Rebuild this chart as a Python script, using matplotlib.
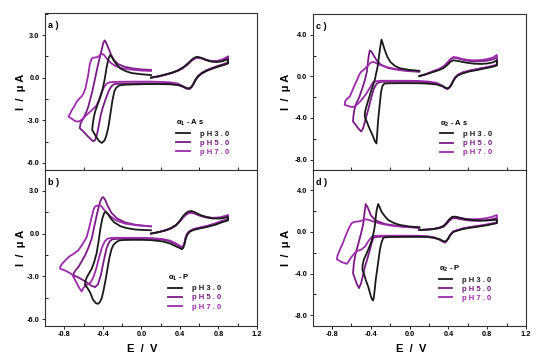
import matplotlib
matplotlib.use("Agg")
import matplotlib.pyplot as plt
from matplotlib.ticker import MultipleLocator, FormatStrFormatter

plt.rcParams['font.family'] = ['Liberation Sans', 'DejaVu Sans']
plt.rcParams['font.weight'] = 'bold'
plt.rcParams['axes.unicode_minus'] = False
plt.rcParams['mathtext.default'] = 'regular'

legend_labels = ['p H 3 . 0', 'p H 5 . 0', 'p H 7 . 0']
line_colors = ['#1a1a1a', '#7a1a86', '#9c2aaa']
panel_tags = ['a )', 'b )', 'c )', 'd )']
legend_titles = [r'$\alpha_1$ - A s', r'$\alpha_1$ - P', r'$\alpha_2$ - A s', r'$\alpha_2$ - P']

# ---- panel a : alpha1-As ----
a_ph3_E = [0.10, 0.18, 0.25, 0.32, 0.38, 0.43, 0.48, 0.52, 0.55, 0.58, 0.62, 0.67, 0.72, 0.78, 0.84, 0.90,
           0.90, 0.86, 0.80, 0.74, 0.68, 0.63, 0.59, 0.56, 0.54, 0.52, 0.50, 0.47, 0.43, 0.38, 0.30, 0.20, 0.10, 0.00, -0.10, -0.18,
           -0.23, -0.26, -0.28, -0.30, -0.32, -0.34, -0.36, -0.38, -0.41, -0.44, -0.47, -0.50, -0.51,
           -0.505, -0.495, -0.48, -0.46, -0.43, -0.40, -0.38, -0.36, -0.34, -0.325, -0.31, -0.29, -0.26, -0.22, -0.16, -0.10, 0.00, 0.10]
a_ph3_I = [0.00, 0.10, 0.22, 0.35, 0.50, 0.70, 0.98, 1.25, 1.40, 1.47, 1.40, 1.25, 1.14, 1.10, 1.15, 1.30,
           1.02, 0.92, 0.80, 0.66, 0.50, 0.32, 0.10, -0.18, -0.45, -0.66, -0.76, -0.74, -0.62, -0.52, -0.47, -0.45, -0.45, -0.46, -0.48, -0.50,
           -0.55, -0.70, -0.95, -1.60, -2.50, -3.40, -4.00, -4.40, -4.60, -4.45, -4.15, -3.80, -3.70,
           -3.30, -2.85, -2.40, -2.00, -1.45, -0.75, -0.10, 0.75, 1.35, 1.58, 1.50, 1.25, 0.95, 0.65, 0.45, 0.32, 0.24, 0.18]

a_ph5_E = [0.10, 0.18, 0.25, 0.32, 0.38, 0.43, 0.48, 0.52, 0.55, 0.58, 0.62, 0.67, 0.72, 0.78, 0.84, 0.90,
           0.90, 0.86, 0.80, 0.74, 0.68, 0.63, 0.59, 0.56, 0.54, 0.52, 0.50, 0.47, 0.43, 0.38, 0.30, 0.20, 0.10, 0.00, -0.10, -0.20, -0.28,
           -0.31, -0.34, -0.37, -0.40, -0.42, -0.44, -0.46, -0.48, -0.50, -0.53, -0.56, -0.60, -0.64,
           -0.63, -0.60, -0.57, -0.55, -0.53, -0.51, -0.48, -0.45, -0.43, -0.41, -0.395, -0.38, -0.365, -0.34, -0.31, -0.28, -0.24, -0.18, -0.10, 0.00, 0.10]
a_ph5_I = [0.00, 0.08, 0.20, 0.33, 0.48, 0.66, 0.92, 1.18, 1.33, 1.40, 1.36, 1.24, 1.15, 1.13, 1.22, 1.42,
           1.00, 0.90, 0.78, 0.64, 0.48, 0.30, 0.08, -0.20, -0.46, -0.68, -0.80, -0.78, -0.64, -0.50, -0.44, -0.42, -0.40, -0.40, -0.41, -0.42, -0.45,
           -0.60, -0.95, -1.50, -2.10, -2.60, -3.30, -4.00, -4.40, -4.48, -4.30, -4.10, -3.80, -3.55,
           -3.20, -2.85, -2.40, -2.03, -1.50, -1.00, -0.05, 0.90, 1.45, 2.00, 2.45, 2.62, 2.45, 2.05, 1.55, 1.20, 0.95, 0.78, 0.66, 0.58, 0.54]

a_ph7_E = [0.10, 0.18, 0.25, 0.32, 0.38, 0.43, 0.48, 0.52, 0.55, 0.58, 0.62, 0.67, 0.72, 0.78, 0.84, 0.90,
           0.90, 0.86, 0.80, 0.74, 0.68, 0.63, 0.59, 0.56, 0.54, 0.52, 0.50, 0.47, 0.43, 0.38, 0.30, 0.20, 0.10, 0.00, -0.10, -0.20, -0.28,
           -0.33, -0.36, -0.39, -0.42, -0.445, -0.47, -0.50, -0.54, -0.58, -0.62, -0.655, -0.69, -0.72, -0.757,
           -0.74, -0.72, -0.69, -0.67, -0.64, -0.62, -0.60, -0.58, -0.565, -0.55, -0.535, -0.515, -0.49, -0.465, -0.44, -0.415, -0.39, -0.36, -0.32, -0.27, -0.20, -0.10, 0.00, 0.10]
a_ph7_I = [0.00, 0.10, 0.22, 0.36, 0.52, 0.70, 0.95, 1.20, 1.35, 1.42, 1.38, 1.27, 1.18, 1.17, 1.28, 1.50,
           1.08, 0.97, 0.84, 0.70, 0.54, 0.36, 0.14, -0.14, -0.42, -0.64, -0.76, -0.74, -0.60, -0.42, -0.33, -0.30, -0.28, -0.28, -0.28, -0.29, -0.30,
           -0.33, -0.42, -0.70, -1.20, -1.68, -2.00, -2.20, -2.45, -2.70, -2.97, -3.10, -3.05, -2.90, -2.74,
           -2.55, -2.27, -1.95, -1.68, -1.45, -1.33, -1.10, -0.75, -0.25, 0.25, 0.95, 1.35, 1.42, 1.42, 1.52, 1.68, 1.62, 1.35, 1.05, 0.82, 0.66, 0.56, 0.50, 0.47]

# ---- panel b : alpha1-P ----
b_ph3_E = [0.10, 0.18, 0.25, 0.31, 0.36, 0.40, 0.43, 0.46, 0.49, 0.52, 0.56, 0.61, 0.67, 0.74, 0.82, 0.90,
           0.90, 0.84, 0.77, 0.68, 0.60, 0.54, 0.50, 0.475, 0.46, 0.45, 0.435, 0.42, 0.40, 0.36, 0.30, 0.22, 0.10, 0.00, -0.10, -0.18, -0.23,
           -0.26, -0.29, -0.31, -0.33, -0.35, -0.37, -0.39, -0.41, -0.43, -0.45, -0.47, -0.50, -0.53, -0.56, -0.585,
           -0.58, -0.565, -0.54, -0.515, -0.49, -0.465, -0.445, -0.425, -0.405, -0.385, -0.37, -0.35, -0.32, -0.28, -0.22, -0.15, -0.06, 0.02, 0.10]
b_ph3_I = [0.00, 0.10, 0.22, 0.38, 0.60, 0.90, 1.20, 1.42, 1.55, 1.58, 1.48, 1.30, 1.16, 1.06, 1.05, 1.15,
           0.92, 0.80, 0.62, 0.46, 0.35, 0.25, 0.12, -0.10, -0.35, -0.70, -1.00, -1.10, -1.02, -0.90, -0.70, -0.55, -0.46, -0.44, -0.44, -0.45, -0.48,
           -0.60, -0.80, -1.10, -1.65, -2.40, -3.20, -3.90, -4.50, -4.80, -4.92, -4.88, -4.65, -4.15, -3.80, -3.60,
           -3.30, -3.05, -2.75, -2.46, -2.00, -1.40, -0.60, 0.35, 1.05, 1.45, 1.52, 1.40, 1.08, 0.78, 0.52, 0.38, 0.28, 0.25, 0.23]

b_ph5_E = [0.10, 0.18, 0.25, 0.31, 0.36, 0.40, 0.43, 0.46, 0.49, 0.52, 0.56, 0.61, 0.67, 0.74, 0.82, 0.90,
           0.90, 0.84, 0.77, 0.68, 0.60, 0.54, 0.50, 0.475, 0.46, 0.45, 0.435, 0.42, 0.40, 0.36, 0.30, 0.22, 0.10, 0.00, -0.10, -0.20, -0.27,
           -0.30, -0.33, -0.36, -0.39, -0.42, -0.45, -0.48, -0.52, -0.57, -0.62, -0.66, -0.706,
           -0.70, -0.68, -0.654, -0.62, -0.584, -0.55, -0.515, -0.49, -0.463, -0.445, -0.428, -0.41, -0.395, -0.375, -0.35, -0.31, -0.25, -0.17, -0.05, 0.10]
b_ph5_I = [0.00, 0.10, 0.22, 0.36, 0.56, 0.84, 1.10, 1.30, 1.42, 1.45, 1.38, 1.24, 1.13, 1.07, 1.10, 1.25,
           0.98, 0.85, 0.68, 0.50, 0.38, 0.28, 0.14, -0.05, -0.30, -0.62, -0.90, -0.98, -0.90, -0.75, -0.55, -0.42, -0.36, -0.35, -0.35, -0.36, -0.38,
           -0.40, -0.55, -1.00, -1.90, -2.90, -3.55, -3.75, -3.65, -3.40, -3.20, -3.05, -2.93,
           -2.75, -2.55, -2.35, -1.95, -1.53, -1.00, -0.35, 0.45, 1.29, 1.80, 2.22, 2.50, 2.55, 2.35, 1.95, 1.45, 1.05, 0.78, 0.60, 0.50]

b_ph7_E = [0.10, 0.18, 0.25, 0.31, 0.36, 0.40, 0.43, 0.46, 0.49, 0.52, 0.56, 0.61, 0.67, 0.74, 0.82, 0.90,
           0.90, 0.84, 0.77, 0.68, 0.60, 0.54, 0.50, 0.475, 0.46, 0.45, 0.435, 0.42, 0.40, 0.36, 0.30, 0.22, 0.10, 0.00, -0.10, -0.20, -0.30,
           -0.35, -0.38, -0.41, -0.44, -0.47, -0.50, -0.53, -0.57, -0.60, -0.62, -0.645, -0.68, -0.72, -0.78, -0.845,
           -0.84, -0.82, -0.79, -0.75, -0.70, -0.654, -0.61, -0.567, -0.54, -0.515, -0.495, -0.48, -0.46, -0.44, -0.42, -0.39, -0.36, -0.32, -0.26, -0.17, -0.05, 0.10]
b_ph7_I = [0.00, 0.10, 0.24, 0.40, 0.60, 0.88, 1.12, 1.32, 1.44, 1.48, 1.42, 1.28, 1.17, 1.10, 1.14, 1.30,
           1.02, 0.90, 0.72, 0.54, 0.42, 0.32, 0.18, 0.00, -0.25, -0.58, -0.85, -0.94, -0.86, -0.70, -0.50, -0.38, -0.32, -0.30, -0.30, -0.30, -0.30,
           -0.35, -0.55, -1.00, -1.70, -2.50, -3.10, -3.45, -3.60, -3.80, -4.05, -3.80, -3.35, -2.85, -2.62, -2.45,
           -2.30, -2.10, -1.88, -1.62, -1.40, -1.17, -0.75, -0.24, 0.45, 1.17, 1.70, 1.90, 1.95, 1.98, 1.95, 1.70, 1.45, 1.20, 0.92, 0.70, 0.58, 0.51]

# ---- panel c : alpha2-As ----
c_ph3_E = [0.10, 0.17, 0.24, 0.30, 0.35, 0.39, 0.42, 0.45, 0.49, 0.54, 0.60, 0.67, 0.74, 0.80, 0.86, 0.90,
           0.90, 0.85, 0.78, 0.70, 0.62, 0.55, 0.50, 0.47, 0.45, 0.43, 0.41, 0.39, 0.37, 0.34, 0.28, 0.20, 0.10, 0.00, -0.10, -0.20, -0.26,
           -0.28, -0.295, -0.305, -0.315, -0.325, -0.333, -0.342, -0.36, -0.38, -0.41, -0.44, -0.463,
           -0.46, -0.446, -0.42, -0.394, -0.375, -0.36, -0.345, -0.33, -0.314, -0.30, -0.29, -0.275, -0.256, -0.23, -0.20, -0.15, -0.10, 0.00, 0.10]
c_ph3_I = [0.03, 0.20, 0.42, 0.60, 0.80, 1.10, 1.40, 1.55, 1.50, 1.40, 1.30, 1.22, 1.20, 1.24, 1.35, 1.55,
           1.05, 0.92, 0.78, 0.62, 0.48, 0.30, 0.10, -0.15, -0.45, -0.80, -1.05, -1.15, -1.10, -0.95, -0.78, -0.70, -0.66, -0.65, -0.65, -0.66, -0.68,
           -0.90, -1.50, -2.40, -3.30, -4.20, -5.30, -6.45, -6.20, -5.70, -5.10, -4.40, -3.86,
           -3.40, -2.90, -2.10, -1.30, -0.80, -0.35, 0.30, 0.95, 2.10, 3.00, 3.54, 3.10, 2.52, 1.90, 1.40, 1.00, 0.78, 0.62, 0.54]

c_ph5_E = [0.10, 0.17, 0.24, 0.30, 0.35, 0.39, 0.42, 0.45, 0.49, 0.54, 0.60, 0.67, 0.74, 0.80, 0.86, 0.90,
           0.90, 0.85, 0.78, 0.70, 0.62, 0.55, 0.50, 0.47, 0.45, 0.43, 0.41, 0.39, 0.37, 0.34, 0.28, 0.20, 0.10, 0.00, -0.10, -0.20, -0.30,
           -0.34, -0.37, -0.40, -0.43, -0.46, -0.48, -0.50, -0.53, -0.56, -0.584,
           -0.58, -0.57, -0.55, -0.52, -0.49, -0.46, -0.44, -0.43, -0.42, -0.41, -0.395, -0.37, -0.34, -0.30, -0.22, -0.10, 0.00, 0.10]
c_ph5_I = [0.03, 0.22, 0.46, 0.66, 0.92, 1.30, 1.62, 1.80, 1.76, 1.62, 1.50, 1.44, 1.46, 1.52, 1.64, 1.82,
           1.10, 0.98, 0.84, 0.70, 0.55, 0.38, 0.16, -0.10, -0.42, -0.82, -1.10, -1.22, -1.15, -0.95, -0.70, -0.58, -0.52, -0.50, -0.50, -0.50, -0.52,
           -0.70, -1.20, -2.20, -3.30, -4.30, -5.00, -5.30, -5.00, -4.60, -4.34,
           -3.80, -3.20, -2.60, -2.00, -1.20, -0.30, 0.50, 1.40, 2.10, 2.50, 2.40, 2.00, 1.55, 1.15, 0.80, 0.60, 0.50, 0.45]

c_ph7_E = [0.10, 0.17, 0.24, 0.30, 0.35, 0.39, 0.42, 0.45, 0.49, 0.54, 0.60, 0.67, 0.74, 0.80, 0.86, 0.90,
           0.90, 0.85, 0.78, 0.70, 0.62, 0.55, 0.50, 0.47, 0.45, 0.43, 0.41, 0.39, 0.37, 0.34, 0.28, 0.20, 0.10, 0.00, -0.10, -0.20, -0.30,
           -0.33, -0.36, -0.38, -0.41, -0.45, -0.49, -0.53, -0.567, -0.60, -0.63, -0.67,
           -0.665, -0.645, -0.618, -0.59, -0.567, -0.54, -0.522, -0.50, -0.475, -0.45, -0.42, -0.40, -0.376, -0.35, -0.31, -0.25, -0.15, -0.05, 0.10]
c_ph7_I = [0.03, 0.24, 0.50, 0.70, 0.96, 1.34, 1.66, 1.86, 1.82, 1.68, 1.58, 1.54, 1.58, 1.66, 1.82, 2.06,
           1.12, 1.00, 0.86, 0.72, 0.57, 0.40, 0.18, -0.08, -0.40, -0.80, -1.08, -1.20, -1.12, -0.90, -0.62, -0.50, -0.44, -0.42, -0.42, -0.42, -0.42,
           -0.45, -0.50, -0.60, -1.10, -1.70, -2.20, -2.60, -2.90, -2.95, -2.85, -2.74,
           -2.40, -2.15, -1.95, -1.35, -0.83, -0.30, 0.13, 0.45, 0.62, 0.85, 1.15, 1.32, 1.40, 1.30, 1.12, 0.92, 0.72, 0.58, 0.48]

# ---- panel d : alpha2-P ----
d_ph3_E = [0.10, 0.17, 0.24, 0.30, 0.35, 0.38, 0.41, 0.44, 0.47, 0.52, 0.58, 0.65, 0.72, 0.79, 0.85, 0.90,
           0.90, 0.85, 0.78, 0.70, 0.62, 0.55, 0.49, 0.45, 0.42, 0.40, 0.38, 0.366, 0.34, 0.31, 0.25, 0.18, 0.10, 0.00, -0.10, -0.20, -0.26,
           -0.273, -0.29, -0.307, -0.32, -0.335, -0.35, -0.36, -0.37, -0.377, -0.39, -0.404, -0.428, -0.453, -0.473, -0.487,
           -0.485, -0.473, -0.45, -0.428, -0.41, -0.394, -0.38, -0.366, -0.355, -0.349, -0.34, -0.325, -0.31, -0.29, -0.255, -0.221, -0.16, -0.10, 0.00, 0.10]
d_ph3_I = [0.19, 0.22, 0.27, 0.38, 0.55, 0.85, 1.20, 1.45, 1.47, 1.35, 1.22, 1.14, 1.10, 1.10, 1.13, 1.18,
           0.85, 0.75, 0.62, 0.50, 0.40, 0.28, 0.12, 0.00, -0.30, -0.62, -0.85, -0.93, -0.85, -0.70, -0.56, -0.48, -0.46, -0.46, -0.47, -0.48, -0.52,
           -0.61, -1.00, -1.72, -2.60, -3.64, -4.60, -5.55, -6.30, -6.58, -6.45, -6.03, -5.23, -4.60, -3.96, -3.64,
           -3.20, -2.68, -2.20, -1.72, -1.30, -0.93, -0.40, 0.19, 0.85, 1.47, 2.10, 2.68, 2.40, 1.95, 1.50, 1.15, 0.85, 0.67, 0.52, 0.45]

d_ph5_E = [0.10, 0.17, 0.24, 0.30, 0.35, 0.38, 0.41, 0.44, 0.47, 0.52, 0.58, 0.65, 0.72, 0.79, 0.85, 0.90,
           0.90, 0.85, 0.78, 0.70, 0.62, 0.55, 0.49, 0.45, 0.42, 0.40, 0.38, 0.366, 0.34, 0.31, 0.25, 0.18, 0.10, 0.00, -0.10, -0.20, -0.30,
           -0.36, -0.376, -0.39, -0.41, -0.439, -0.46, -0.48, -0.50, -0.522, -0.54, -0.56, -0.584,
           -0.575, -0.56, -0.54, -0.52, -0.50, -0.48, -0.47, -0.46, -0.453, -0.43, -0.40, -0.35, -0.25, -0.10, 0.10]
d_ph5_I = [0.19, 0.22, 0.27, 0.36, 0.50, 0.76, 1.08, 1.30, 1.33, 1.24, 1.14, 1.08, 1.08, 1.12, 1.22, 1.35,
           0.88, 0.78, 0.66, 0.54, 0.44, 0.32, 0.16, 0.04, -0.26, -0.60, -0.88, -1.02, -0.92, -0.75, -0.55, -0.46, -0.44, -0.44, -0.44, -0.45, -0.46,
           -0.50, -0.61, -1.00, -1.72, -2.68, -3.30, -4.10, -4.90, -5.39, -5.10, -4.60, -3.96,
           -3.00, -2.20, -1.50, -0.80, -0.10, 0.70, 1.50, 2.20, 2.68, 2.30, 1.60, 1.10, 0.75, 0.55, 0.40]

d_ph7_E = [0.10, 0.17, 0.24, 0.30, 0.35, 0.38, 0.41, 0.44, 0.47, 0.52, 0.58, 0.65, 0.72, 0.79, 0.85, 0.90,
           0.90, 0.85, 0.78, 0.70, 0.62, 0.55, 0.49, 0.45, 0.42, 0.40, 0.38, 0.366, 0.34, 0.31, 0.25, 0.18, 0.10, 0.00, -0.10, -0.20, -0.30,
           -0.38, -0.42, -0.46, -0.50, -0.55, -0.60, -0.646, -0.70, -0.75,
           -0.745, -0.73, -0.71, -0.69, -0.67, -0.65, -0.63, -0.60, -0.575, -0.55, -0.52, -0.49, -0.465, -0.446, -0.42, -0.38, -0.30, -0.20, -0.10, 0.00, 0.10]
d_ph7_I = [0.19, 0.23, 0.29, 0.40, 0.58, 0.88, 1.22, 1.42, 1.45, 1.36, 1.26, 1.22, 1.24, 1.32, 1.45, 1.63,
           0.92, 0.82, 0.70, 0.58, 0.47, 0.35, 0.18, 0.05, -0.25, -0.58, -0.86, -1.00, -0.90, -0.72, -0.50, -0.40, -0.37, -0.36, -0.36, -0.36, -0.36,
           -0.38, -0.80, -1.40, -1.70, -1.85, -2.40, -3.06, -2.90, -2.62,
           -2.30, -1.95, -1.50, -1.10, -0.60, -0.15, 0.30, 0.83, 0.95, 0.99, 1.02, 1.10, 1.18, 1.21, 1.15, 1.02, 0.80, 0.62, 0.52, 0.45, 0.40]

fig = plt.figure(figsize=(5.44, 3.62), dpi=100)
ax_a = fig.add_axes([0.0827, 0.5304, 0.3897, 0.4337])
ax_b = fig.add_axes([0.0827, 0.1003, 0.3897, 0.4301])
ax_c = fig.add_axes([0.5748, 0.5304, 0.3920, 0.4309])
ax_d = fig.add_axes([0.5748, 0.1003, 0.3920, 0.4301])

panels = [
    (ax_a, [(a_ph3_E, a_ph3_I), (a_ph5_E, a_ph5_I), (a_ph7_E, a_ph7_I)], (-6.5, 4.55), 3.0, (0.62, 0.33)),
    (ax_b, [(b_ph3_E, b_ph3_I), (b_ph5_E, b_ph5_I), (b_ph7_E, b_ph7_I)], (-6.45, 4.45), 3.0, (0.58, 0.34)),
    (ax_c, [(c_ph3_E, c_ph3_I), (c_ph5_E, c_ph5_I), (c_ph7_E, c_ph7_I)], (-9.0, 6.0), 4.0, (0.595, 0.33)),
    (ax_d, [(d_ph3_E, d_ph3_I), (d_ph5_E, d_ph5_I), (d_ph7_E, d_ph7_I)], (-9.0, 5.95), 4.0, (0.59, 0.395)),
]

for k, (ax, curves, ylim, ystep, leg_xy) in enumerate(panels):
    lines = {}
    for j in [1, 2, 0]:
        E, I = curves[j]
        ln, = ax.plot(E, I, color=line_colors[j], lw=1.3, label=legend_labels[j], zorder=3 if j == 0 else 2)
        lines[j] = ln
    handles = [lines[0], lines[1], lines[2]]

    ax.set_xlim(-1.0, 1.2)
    ax.set_ylim(*ylim)
    ax.xaxis.set_major_locator(MultipleLocator(0.4))
    ax.xaxis.set_minor_locator(MultipleLocator(0.2))
    ax.yaxis.set_major_locator(MultipleLocator(ystep))
    ax.yaxis.set_minor_locator(MultipleLocator(ystep / 2))
    ax.xaxis.set_major_formatter(FormatStrFormatter('%.1f'))
    ax.yaxis.set_major_formatter(FormatStrFormatter('%.1f'))
    ax.tick_params(which='major', direction='out', length=2.5, width=0.6, labelsize=5.3, pad=1.5)
    ax.tick_params(which='minor', direction='in', length=2.5, width=0.6)
    for s in ax.spines.values():
        s.set_linewidth(0.8)
        s.set_color('#333333')

    ax.set_ylabel('I  /  \u03bc A', fontsize=8, fontweight='bold')
    ax.yaxis.set_label_coords(-0.09 if k < 2 else -0.10, 0.5)
    if k in (1, 3):
        ax.set_xlabel('E  /  V', fontsize=8, fontweight='bold')
        ax.xaxis.set_label_coords(0.46, -0.12)
    else:
        ax.tick_params(axis='x', which='both', labelbottom=False)

    ax.text(0.015, 0.95, panel_tags[k], transform=ax.transAxes, fontsize=6.5,
            fontweight='bold', va='top', ha='left')

    leg = ax.legend(handles=handles, title=legend_titles[k], loc='upper left',
                    bbox_to_anchor=leg_xy, frameon=False, fontsize=5.5,
                    title_fontsize=5.5, handlelength=1.8, handletextpad=1.3,
                    labelspacing=0.25, borderaxespad=0, borderpad=0,
                    alignment='left', labelcolor=line_colors)
    leg.get_title().set_fontweight('bold')

fig.savefig('out.png', dpi=100)
